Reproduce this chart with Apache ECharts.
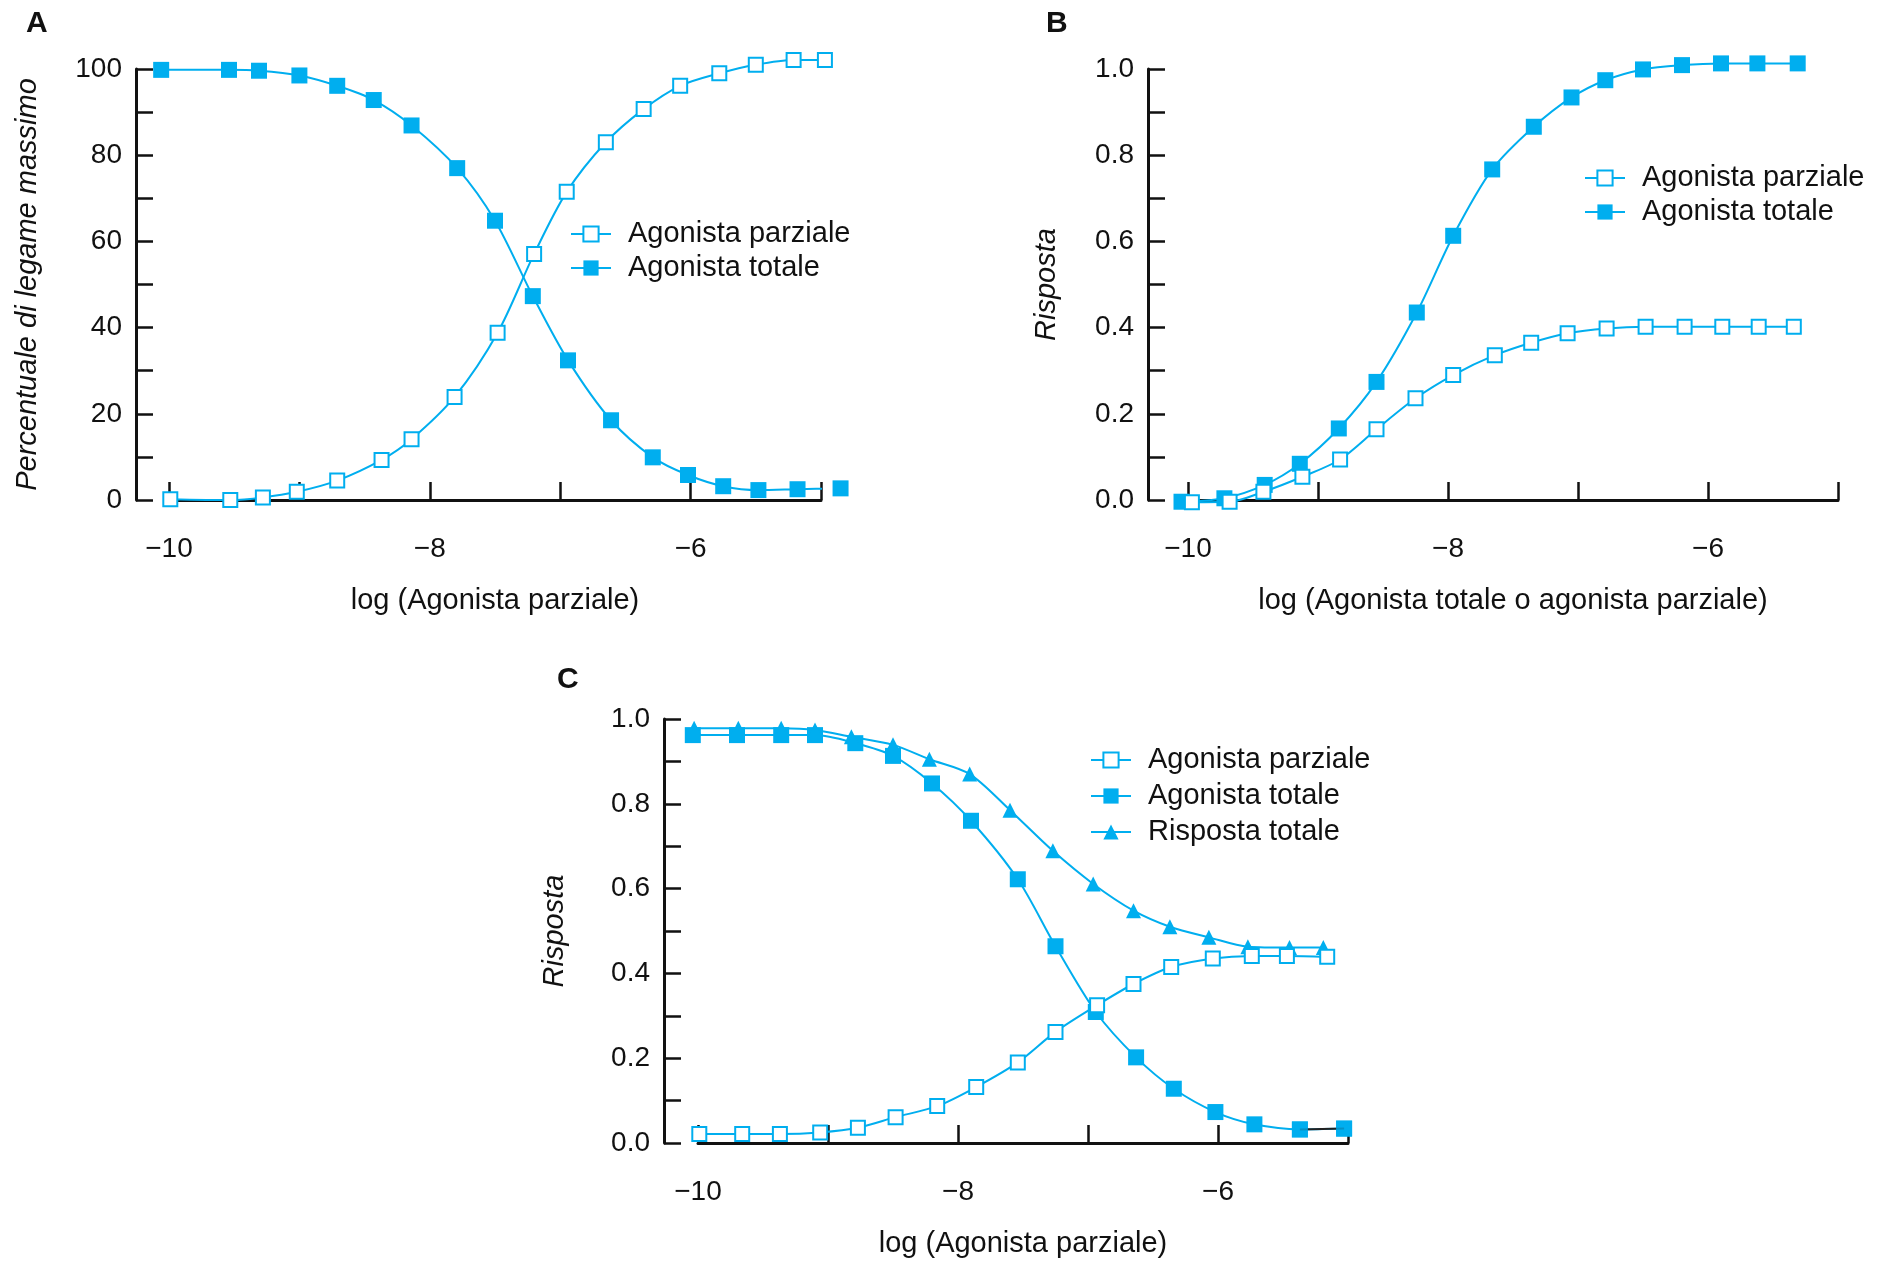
<!DOCTYPE html>
<html>
<head>
<meta charset="utf-8">
<script src="https://cdn.jsdelivr.net/npm/echarts@6/dist/echarts.min.js"></script>
<style>
  html, body { margin: 0; padding: 0; background: #fff; }
  #chart { width: 1890px; height: 1263px; }
</style>
</head>
<body>
<div id="chart"></div>
<script>
// pannello A
const xA_par = [-9.99, -9.53, -9.28, -9.02, -8.71, -8.37, -8.14, -7.81, -7.48, -7.20, -6.95, -6.65, -6.36, -6.08, -5.78, -5.50, -5.21, -4.97];
const yA_par = [0.2, 0.0, 0.6, 1.9, 4.5, 9.3, 14.1, 23.9, 38.8, 57.1, 71.5, 83.0, 90.7, 96.1, 99.0, 101.0, 102.1, 102.1];
const xA_tot = [-10.06, -9.54, -9.31, -9.0, -8.71, -8.43, -8.14, -7.79, -7.50, -7.21, -6.94, -6.61, -6.29, -6.02, -5.75, -5.48, -5.18, -4.85];
const yA_tot = [99.8, 99.8, 99.6, 98.5, 96.1, 92.8, 86.9, 77.0, 64.8, 47.3, 32.4, 18.5, 9.9, 5.8, 3.2, 2.3, 2.5, 2.7];

// pannello B
const xB_par = [-9.97, -9.68, -9.42, -9.12, -8.83, -8.55, -8.25, -7.96, -7.64, -7.36, -7.08, -6.78, -6.48, -6.18, -5.89, -5.61, -5.34];
const yB_par = [-0.005, -0.004, 0.019, 0.054, 0.094, 0.164, 0.236, 0.290, 0.336, 0.365, 0.387, 0.398, 0.402, 0.402, 0.402, 0.402, 0.402];
const xB_tot = [-10.05, -9.72, -9.41, -9.14, -8.84, -8.55, -8.24, -7.96, -7.66, -7.34, -7.05, -6.79, -6.50, -6.20, -5.90, -5.62, -5.31];
const yB_tot = [-0.004, 0.004, 0.035, 0.084, 0.166, 0.274, 0.435, 0.613, 0.767, 0.866, 0.934, 0.974, 0.999, 1.009, 1.013, 1.013, 1.013];

// pannello C
const xC_par = [-9.99, -9.66, -9.37, -9.06, -8.77, -8.48, -8.16, -7.86, -7.54, -7.25, -6.93, -6.65, -6.36, -6.04, -5.74, -5.47, -5.16];
const yC_par = [0.021, 0.021, 0.021, 0.025, 0.036, 0.061, 0.087, 0.132, 0.190, 0.262, 0.325, 0.375, 0.415, 0.435, 0.441, 0.441, 0.439];
const xC_tot = [-10.04, -9.70, -9.36, -9.10, -8.79, -8.50, -8.20, -7.90, -7.54, -7.25, -6.94, -6.63, -6.34, -6.02, -5.72, -5.37, -5.03];
const yC_tot = [0.962, 0.962, 0.962, 0.962, 0.943, 0.913, 0.848, 0.760, 0.622, 0.464, 0.309, 0.202, 0.128, 0.073, 0.044, 0.032, 0.034];
const xC_risp = [-10.03, -9.69, -9.36, -9.10, -8.82, -8.50, -8.22, -7.91, -7.60, -7.27, -6.96, -6.65, -6.37, -6.07, -5.77, -5.45, -5.19];
const yC_risp = [0.978, 0.978, 0.978, 0.974, 0.958, 0.939, 0.905, 0.870, 0.785, 0.689, 0.611, 0.548, 0.510, 0.485, 0.463, 0.461, 0.461];

const blu = '#00aeef';
const font = '"Liberation Sans", Arial, Helvetica, sans-serif';

const pts = (xs, ys) => xs.map((x, i) => [x, ys[i]]);
const meno = v => (v < 0 ? '\u2212' + Math.abs(v) : String(v));

let serie = (name, idx, data, tipo) => {
  let s = {
    name: name,
    type: 'line',
    xAxisIndex: idx,
    yAxisIndex: idx,
    data: data,
    smooth: 0.3,
    clip: false,
    lineStyle: { color: blu, width: 2 },
    itemStyle: { color: blu },
    symbol: 'rect',
    symbolSize: 16,
    z: 3
  };
  if (tipo === 'vuoto') {
    s.symbolSize = 14;
    s.itemStyle = { color: '#fff', borderColor: blu, borderWidth: 2 };
    s.z = 4;
  }
  if (tipo === 'tri') {
    s.symbol = 'triangle';
    s.symbolSize = 15;
  }
  return s;
};

let asseX = (idx, name, gap) => ({
  type: 'value', gridIndex: idx, min: -10, max: -5, interval: 1,
  offset: 21,
  name: name, nameLocation: 'middle', nameGap: gap,
  nameTextStyle: { fontFamily: font, fontSize: 29, color: '#111' },
  axisLine: { lineStyle: { color: '#111', width: 3 } },
  axisTick: { inside: true, length: 18, lineStyle: { color: '#111', width: 2.5 } },
  axisLabel: {
    margin: 14, fontFamily: font, fontSize: 28, color: '#111',
    formatter: v => (Math.round(v) % 2 === 0 ? meno(v) : '')
  },
  splitLine: { show: false }
});

let asseY = (idx, name, max, interval, off, gap, dec) => ({
  type: 'value', gridIndex: idx, min: 0, max: max, interval: interval,
  offset: off,
  name: name, nameLocation: 'middle', nameGap: gap,
  nameTextStyle: { fontFamily: font, fontSize: 29, fontStyle: 'italic', color: '#111' },
  axisLine: { show: true, lineStyle: { color: '#111', width: 3 } },
  axisTick: { show: true, inside: true, length: 17, lineStyle: { color: '#111', width: 2.5 } },
  minorTick: { show: true, splitNumber: 2, length: 17, lineStyle: { color: '#111', width: 2.5 } },
  axisLabel: {
    margin: 14, fontFamily: font, fontSize: 28, color: '#111',
    formatter: v => v.toFixed(dec)
  },
  splitLine: { show: false }
});

let legenda = (left, top, names, lh) => ({
  left: left, top: top, orient: 'vertical',
  itemWidth: 40, itemHeight: 19, itemGap: 0,
  data: names,
  selectedMode: false,
  textStyle: { fontFamily: font, fontSize: 29, color: '#111', lineHeight: lh, padding: [0, 0, 0, 12] }
});

let lettera = (t, left, top) => ({
  text: t, left: left, top: top,
  textStyle: { fontFamily: font, fontSize: 30, fontWeight: 'bold', color: '#111' }
});

option = {
  backgroundColor: '#fff',
  animation: false,
  title: [lettera('A', 21, 4), lettera('B', 1041, 4), lettera('C', 552, 660)],
  legend: [
    legenda(565, 212, ['Agonista parziale', 'Agonista totale'], 34),
    legenda(1579, 156, ['Agonista parziale', 'Agonista totale'], 34),
    legenda(1085, 737, ['Agonista parziale', 'Agonista totale', 'Risposta totale'], 36)
  ],
  grid: [
    { left: 169, top: 69, width: 652, height: 431 },
    { left: 1188, top: 69, width: 650, height: 431 },
    { left: 698, top: 719, width: 650, height: 424 }
  ],
  xAxis: [
    asseX(0, 'log (Agonista parziale)', 65),
    asseX(1, 'log (Agonista totale o agonista parziale)', 65),
    asseX(2, 'log (Agonista parziale)', 65)
  ],
  yAxis: [
    asseY(0, 'Percentuale di legame massimo', 100, 20, 33, 94, 0),
    asseY(1, 'Risposta', 1, 0.2, 40, 87, 1),
    asseY(2, 'Risposta', 1, 0.2, 34, 95, 1)
  ],
  series: [
    serie('Agonista parziale', 0, pts(xA_par, yA_par), 'vuoto'),
    serie('Agonista totale', 0, pts(xA_tot, yA_tot), 'pieno'),
    serie('Agonista parziale', 1, pts(xB_par, yB_par), 'vuoto'),
    serie('Agonista totale', 1, pts(xB_tot, yB_tot), 'pieno'),
    serie('Agonista parziale', 2, pts(xC_par, yC_par), 'vuoto'),
    serie('Agonista totale', 2, pts(xC_tot, yC_tot), 'pieno'),
    serie('Risposta totale', 2, pts(xC_risp, yC_risp), 'tri'),
    // tratto nero tra gli ultimi due punti dell'agonista totale in C
    {
      type: 'line', xAxisIndex: 2, yAxisIndex: 2, clip: false, z: 3.5,
      data: pts(xC_tot, yC_tot).slice(-2), symbol: 'none',
      lineStyle: { color: '#222', width: 2 }
    },
    // marcatori di C sopra il tratto nero
    {
      type: 'scatter', xAxisIndex: 2, yAxisIndex: 2, clip: false, z: 5,
      data: pts(xC_tot, yC_tot).slice(-2), symbol: 'rect', symbolSize: 16,
      itemStyle: { color: blu }
    }
  ]
};

var myChart = echarts.init(document.getElementById('chart'));
myChart.setOption(option);
</script>
</body>
</html>
